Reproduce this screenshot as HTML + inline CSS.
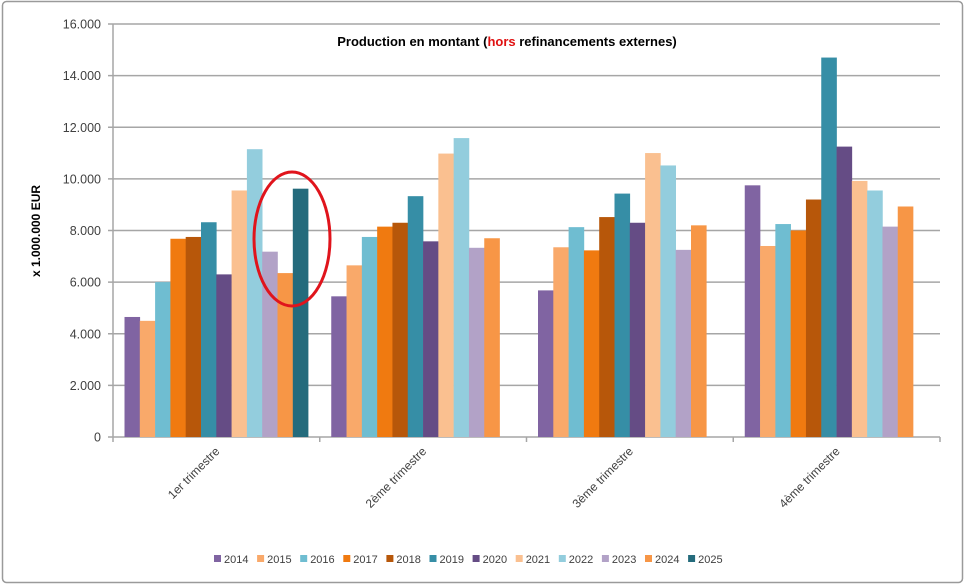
<!DOCTYPE html>
<html><head><meta charset="utf-8"><style>
html,body{margin:0;padding:0;background:#fff;}
svg{display:block;font-family:"Liberation Sans",Calibri,sans-serif;}
</style></head><body>
<svg id="c" width="965" height="585" xmlns="http://www.w3.org/2000/svg"></svg>
<script>
const s=document.getElementById('c');let h='';
h+='<rect x="2.5" y="1.5" width="960" height="581" rx="4" fill="#fff" stroke="#9a9a9a" stroke-width="1.5"/>';
const x0=113,x1=940,y0=437,ppu=413/16000;
for(let i=0;i<=8;i++){const y=y0-i*2000*ppu;
 h+=`<line x1="${x0-5}" x2="${x1}" y1="${y}" y2="${y}" stroke="#a6a6a6" stroke-width="1.5"/>`;
 const lab=i==0?'0':(i*2)+'.000';
 h+=`<text x="101" y="${y+4.5}" font-size="12.5" text-anchor="end" fill="#404040">${lab}</text>`;}
h+=`<line x1="${x0}" x2="${x0}" y1="24" y2="${y0+5}" stroke="#a6a6a6" stroke-width="1.5"/>`;
const cols=['#8064A2','#F9A96A','#6FBDD1','#F07A10','#B7570A','#368EA6','#654C85','#FAC090','#93CDDD','#B2A2C7','#F79646','#246B7C'];
const d=[[4650,4500,6000,7680,7750,8320,6300,9550,11150,7180,6350,9620],
[5450,6650,7750,8150,8300,9330,7580,10980,11580,7330,7700,0],
[5680,7350,8130,7230,8520,9430,8300,11000,10520,7250,8200,0],
[9750,7400,8250,8000,9200,14700,11250,9920,9550,8150,8930,0]];
const cw=(x1-x0)/4,bw=15.3;
const labs=['1er trimestre','2ème trimestre','3ème trimestre','4ème trimestre'];
d.forEach((g,gi)=>{const gx=x0+gi*cw+11.5;
 g.forEach((v,i)=>{if(!v)return;const hh=v*ppu;
  h+=`<rect x="${gx+i*bw}" y="${y0-hh}" width="${bw+0.3}" height="${hh}" fill="${cols[i]}"/>`;});
 h+=`<line x1="${x0+(gi+1)*cw}" x2="${x0+(gi+1)*cw}" y1="${y0}" y2="${y0+5}" stroke="#a6a6a6" stroke-width="1.5"/>`;
 const cx=x0+gi*cw+cw/2+4;
 h+=`<text transform="translate(${cx},452) rotate(-45)" font-size="12" text-anchor="end" fill="#404040">${labs[gi]}</text>`;
});
h+='<ellipse cx="292" cy="239" rx="38" ry="67" fill="none" stroke="#e0141c" stroke-width="3"/>';
h+='<text x="507" y="46" font-size="13" font-weight="bold" text-anchor="middle" fill="#000">Production en montant (<tspan fill="#e01010">hors</tspan> refinancements externes)</text>';
h+='<text transform="translate(40,231) rotate(-90)" font-size="12" font-weight="bold" text-anchor="middle" fill="#000">x 1.000.000 EUR</text>';
let lx=214;
for(let i=0;i<12;i++){h+=`<rect x="${lx}" y="555" width="7" height="7" fill="${cols[i]}"/><text x="${lx+10}" y="563" font-size="11" fill="#404040">${2014+i}</text>`;lx+=43.1;}
s.innerHTML=h;
</script>
</body></html>
